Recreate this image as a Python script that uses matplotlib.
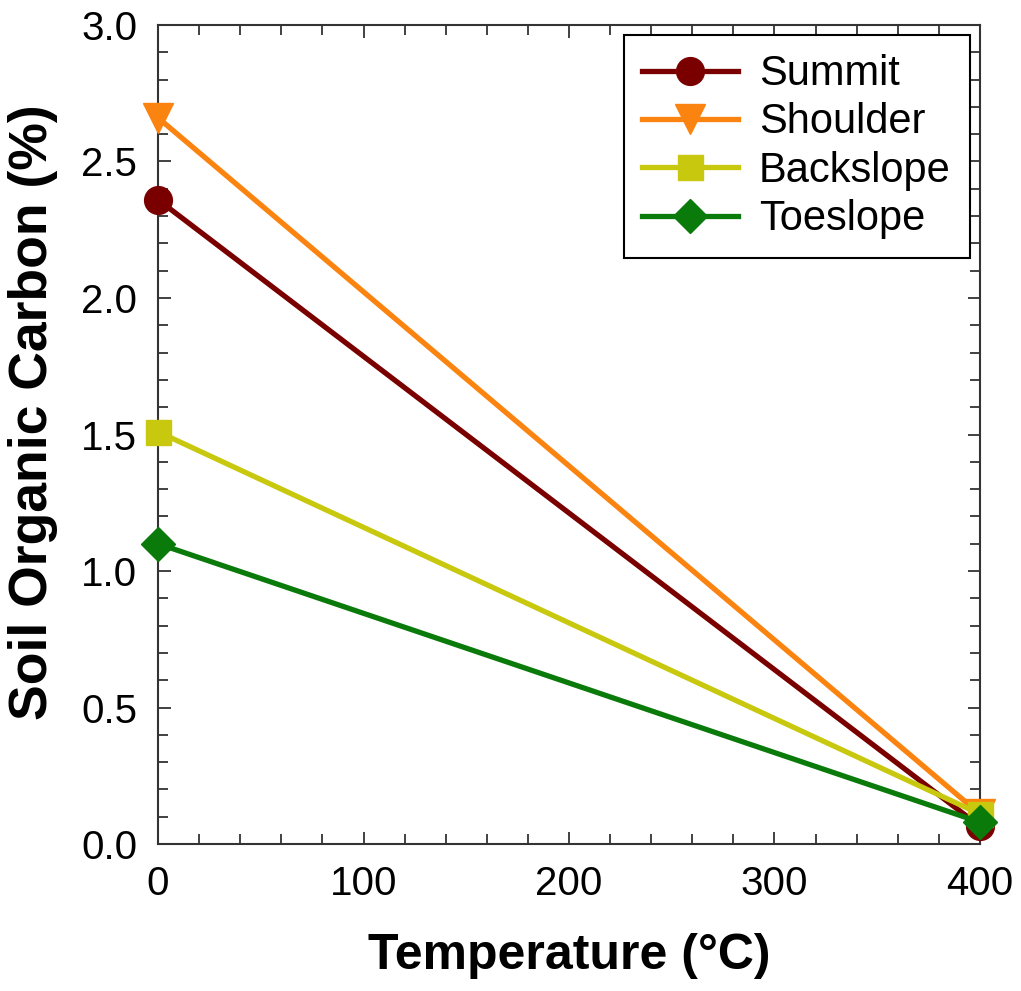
import matplotlib
matplotlib.use("Agg")
import matplotlib.pyplot as plt
from matplotlib.ticker import MultipleLocator

plt.rcParams['font.family'] = ['Liberation Sans', 'DejaVu Sans']

temperature = [0, 400]
series_names = ["Summit", "Shoulder", "Backslope", "Toeslope"]
summit = [2.36, 0.065]
shoulder = [2.66, 0.11]
backslope = [1.51, 0.11]
toeslope = [1.10, 0.08]

colors = ["#7a0000", "#fb8410", "#c8c80e", "#0a7a0a"]
markers = ["o", "v", "s", "D"]
msizes = [20, 21, 18, 17]

fig = plt.figure(figsize=(10.21, 9.91), dpi=100)
ax = fig.add_axes([0.1548, 0.1483, 0.805, 0.8265])

for name, vals, c, m, ms in zip(series_names, [summit, shoulder, backslope, toeslope], colors, markers, msizes):
    ax.plot(temperature, vals, color=c, marker=m, markersize=ms, linewidth=3.8,
            label=name, clip_on=False, zorder=3)

ax.set_xlim(0, 400)
ax.set_ylim(0, 3.0)
ax.xaxis.set_major_locator(MultipleLocator(100))
ax.xaxis.set_minor_locator(MultipleLocator(20))
ax.yaxis.set_major_locator(MultipleLocator(0.5))
ax.yaxis.set_minor_locator(MultipleLocator(0.1))
ax.yaxis.set_major_formatter(matplotlib.ticker.FormatStrFormatter('%.1f'))
ax.tick_params(which='both', direction='in', top=True, right=True, width=1.3, color='#333333')
ax.tick_params(which='major', length=9, labelsize=29, pad=15)
ax.tick_params(which='minor', length=7)
for s in ax.spines.values():
    s.set_linewidth(1.5)
    s.set_color('#333333')

ax.set_xlabel("Temperature (°C)", fontsize=36, fontweight='bold', labelpad=22)
ax.set_ylabel("Soil Organic Carbon (%)", fontsize=38.5, fontweight='bold')
ax.yaxis.set_label_coords(-0.122, 0.527)

leg = ax.legend(loc='upper right', fontsize=30, frameon=True, fancybox=False,
                edgecolor='black', framealpha=1, handlelength=2.3, handletextpad=0.5,
                labelspacing=0.2, borderaxespad=0.25, borderpad=0.45)
leg.get_frame().set_linewidth(1.5)

fig.savefig("out.png", dpi=100)
